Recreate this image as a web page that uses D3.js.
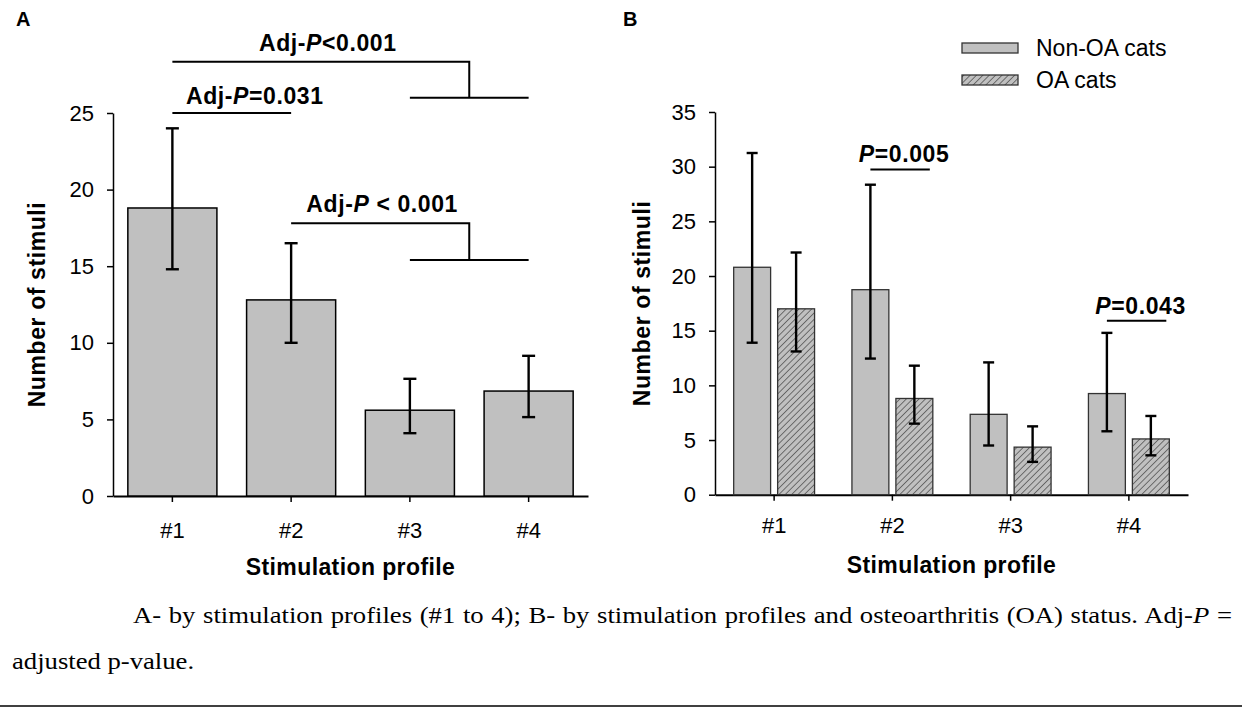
<!DOCTYPE html>
<html>
<head>
<meta charset="utf-8">
<script src="https://cdn.jsdelivr.net/npm/d3@7"></script>
<style>
  body { margin: 0; background: #fff; }
</style>
</head>
<body>
<script>
// data
const profiles = ["#1", "#2", "#3", "#4"];
const yTicksA = [0, 5, 10, 15, 20, 25];
const meanA = [18.8, 12.8, 5.6, 6.85];
const lowA = [14.8, 10.0, 4.1, 5.15];
const highA = [24.0, 16.5, 7.65, 9.15];

const groups = ["Non-OA cats", "OA cats"];
const yTicksB = [0, 5, 10, 15, 20, 25, 30, 35];
const meanNonOA = [20.8, 18.75, 7.35, 9.25];
const lowNonOA = [13.9, 12.45, 4.5, 5.8];
const highNonOA = [31.25, 28.35, 12.1, 14.8];
const meanOA = [17.0, 8.8, 4.35, 5.1];
const lowOA = [13.1, 6.5, 3.0, 3.6];
const highOA = [22.15, 11.8, 6.25, 7.2];

// significance annotations (levels in y units)
const bracketsA = [
    { pre: "Adj-", op: "<0.001", from: "#1", to: ["#3", "#4"], top: 28.35, low: 26.0, dx: 7 },
    { pre: "Adj-", op: " < 0.001", from: "#2", to: ["#3", "#4"], top: 17.8, low: 15.4, dx: 2 }
];
const linesA = [{ pre: "Adj-", op: "=0.031", from: "#1", to: "#2", level: 25.0 }];
const pairsB = [
    { profile: "#2", op: "=0.005", level: 29.75 },
    { profile: "#4", op: "=0.043", level: 15.9 }
];

const width = 1242, height = 708;
const sans = "'Liberation Sans', Arial, sans-serif";

let svg = d3.select("body").append("svg")
    .attr("width", width)
    .attr("height", height)
    .style("font-family", sans);

let pat = svg.append("defs").append("pattern")
    .attr("id", "hatch")
    .attr("patternUnits", "userSpaceOnUse")
    .attr("width", 4.5).attr("height", 4.5)
    .attr("patternTransform", "rotate(45)");
pat.append("rect").attr("width", 4.5).attr("height", 4.5).attr("fill", "#c0c0c0");
pat.append("line").attr("x1", 0).attr("y1", 0).attr("x2", 0).attr("y2", 4.5)
    .attr("stroke", "#333").attr("stroke-width", 1.2);

function styleAxis(g, domainWidth) {
    g.attr("font-size", 22).attr("font-family", sans);
    g.select(".domain").attr("stroke", "#000").attr("stroke-width", domainWidth);
    g.selectAll(".tick line").attr("stroke", "#000").attr("stroke-width", 1.5);
    g.selectAll(".tick text").attr("fill", "#000");
}

function errorBar(g, cx, lo, hi, y, cap) {
    g.append("line").attr("x1", cx).attr("x2", cx).attr("y1", y(lo)).attr("y2", y(hi));
    g.append("line").attr("x1", cx - cap / 2).attr("x2", cx + cap / 2).attr("y1", y(lo)).attr("y2", y(lo));
    g.append("line").attr("x1", cx - cap / 2).attr("x2", cx + cap / 2).attr("y1", y(hi)).attr("y2", y(hi));
}

function pLabel(g, x, y, pre, op) {
    let t = g.append("text")
        .attr("x", x).attr("y", y)
        .attr("text-anchor", "middle")
        .attr("font-weight", "bold")
        .attr("font-size", 23)
        .attr("letter-spacing", 0.6);
    if (pre) t.append("tspan").text(pre);
    t.append("tspan").attr("font-style", "italic").text("P");
    t.append("tspan").text(op);
}

function axisTitles(yx, yy, xx, xy) {
    svg.append("text")
        .attr("transform", `translate(${yx},${yy}) rotate(-90)`)
        .attr("text-anchor", "middle").attr("font-weight", "bold")
        .attr("font-size", 23).attr("letter-spacing", 0.6)
        .text("Number of stimuli");
    svg.append("text").attr("x", xx).attr("y", xy)
        .attr("text-anchor", "middle").attr("font-weight", "bold")
        .attr("font-size", 23).attr("letter-spacing", 0.4)
        .text("Stimulation profile");
}

// ---------- panel A ----------
let xA = d3.scaleBand().domain(profiles).range([113, 588]).paddingInner(0.25).paddingOuter(0.125);
let yA = d3.scaleLinear().domain([0, 25]).range([496, 113]);
let cA = p => xA(p) + xA.bandwidth() / 2;

svg.append("g").attr("transform", "translate(0,496)")
    .call(d3.axisBottom(xA).tickSize(6).tickSizeOuter(0).tickPadding(20))
    .call(g => styleAxis(g, 2));
svg.append("g").attr("transform", "translate(113,0)")
    .call(d3.axisLeft(yA).tickValues(yTicksA).tickSize(6).tickSizeOuter(0).tickPadding(13))
    .call(g => styleAxis(g, 1.5));

svg.append("g").selectAll("rect")
    .data(profiles)
    .enter()
    .append("rect")
    .attr("x", d => xA(d))
    .attr("y", (d, i) => yA(meanA[i]))
    .attr("width", xA.bandwidth())
    .attr("height", (d, i) => yA(0) - yA(meanA[i]))
    .attr("fill", "#c0c0c0")
    .attr("stroke", "#000")
    .attr("stroke-width", 1.5);

let errA = svg.append("g").attr("stroke", "#000").attr("stroke-width", 2.4);
profiles.forEach((p, i) => errorBar(errA, cA(p), lowA[i], highA[i], yA, 13));

let annA = svg.append("g");
let annLines = annA.append("g").attr("stroke", "#000").attr("stroke-width", 2).attr("fill", "none");
bracketsA.forEach(b => {
    let x0 = cA(b.from), xa = cA(b.to[0]), xb = cA(b.to[1]), xm = (xa + xb) / 2;
    annLines.append("path")
        .attr("d", `M${x0},${yA(b.top)}H${xm}V${yA(b.low)}M${xa},${yA(b.low)}H${xb}`);
    pLabel(annA, (x0 + xm) / 2 + b.dx, yA(b.top) - 11, b.pre, b.op);
});
linesA.forEach(l => {
    let x0 = cA(l.from), x1 = cA(l.to);
    annLines.append("line").attr("x1", x0).attr("x2", x1).attr("y1", yA(l.level)).attr("y2", yA(l.level));
    pLabel(annA, (x0 + x1) / 2 + 23, yA(l.level) - 9, l.pre, l.op);
});

svg.append("text").attr("x", 16).attr("y", 26)
    .attr("font-weight", "bold").attr("font-size", 20).text("A");
axisTitles(45, 304.5, 350.5, 575);

// ---------- panel B ----------
let xB = d3.scaleBand().domain(profiles).range([715, 1188]).paddingInner(0.316).paddingOuter(0.158);
let xIn = d3.scaleBand().domain(groups).range([0, xB.bandwidth()]).paddingInner(0.16);
let yB = d3.scaleLinear().domain([0, 35]).range([494.7, 112]);

svg.append("g").attr("transform", "translate(0,494.7)")
    .call(d3.axisBottom(xB).tickSize(6).tickSizeOuter(0).tickPadding(17))
    .call(g => styleAxis(g, 2));
svg.append("g").attr("transform", "translate(715,0)")
    .call(d3.axisLeft(yB).tickValues(yTicksB).tickSize(6).tickSizeOuter(0).tickPadding(13))
    .call(g => styleAxis(g, 1.5));

let seriesB = [
    { name: groups[0], mean: meanNonOA, low: lowNonOA, high: highNonOA, fill: "#c0c0c0" },
    { name: groups[1], mean: meanOA, low: lowOA, high: highOA, fill: "url(#hatch)" }
];

let barsB = svg.append("g");
let errB = svg.append("g").attr("stroke", "#000").attr("stroke-width", 2.4);
seriesB.forEach(s => {
    barsB.selectAll(null)
        .data(profiles)
        .enter()
        .append("rect")
        .attr("x", d => xB(d) + xIn(s.name))
        .attr("y", (d, i) => yB(s.mean[i]))
        .attr("width", xIn.bandwidth())
        .attr("height", (d, i) => yB(0) - yB(s.mean[i]))
        .attr("fill", s.fill)
        .attr("stroke", "#333")
        .attr("stroke-width", 1.3);
    profiles.forEach((p, i) => {
        let cx = xB(p) + xIn(s.name) + xIn.bandwidth() / 2;
        errorBar(errB, cx, s.low[i], s.high[i], yB, 11);
    });
});

let annB = svg.append("g");
pairsB.forEach(a => {
    let x0 = xB(a.profile) + xIn(groups[0]) + xIn.bandwidth() / 2;
    let x1 = xB(a.profile) + xIn(groups[1]) + xIn.bandwidth() - 3;
    annB.append("line")
        .attr("x1", x0).attr("x2", x1)
        .attr("y1", yB(a.level)).attr("y2", yB(a.level))
        .attr("stroke", "#000").attr("stroke-width", 2);
    pLabel(annB, (x0 + x1) / 2 + 4, yB(a.level) - 7, "", a.op);
});

// legend
let legend = svg.append("g").attr("transform", "translate(962,0)");
seriesB.forEach((s, i) => {
    legend.append("rect")
        .attr("x", 0).attr("y", [43, 75][i])
        .attr("width", 56).attr("height", 10)
        .attr("fill", s.fill).attr("stroke", "#333").attr("stroke-width", 1.3);
    legend.append("text")
        .attr("x", 74).attr("y", [56, 88][i])
        .attr("font-size", 23)
        .text(s.name);
});

svg.append("text").attr("x", 623).attr("y", 26)
    .attr("font-weight", "bold").attr("font-size", 20).text("B");
axisTitles(650, 303.4, 951.5, 573);

// ---------- caption ----------
// the scanned caption is a little wider than plain Times, so stretch it horizontally
let stretch = 1.16;
let serif = "'Liberation Serif', 'Times New Roman', serif";
let capG = svg.append("g")
    .attr("transform", `scale(${stretch},1)`)
    .attr("font-family", serif).attr("font-size", 23);
let cap1 = capG.append("text").attr("x", 133 / stretch).attr("y", 623);
cap1.append("tspan").text("A- by stimulation profiles (#1 to 4); B- by stimulation profiles and osteoarthritis (OA) status. Adj-");
cap1.append("tspan").attr("font-style", "italic").text("P");
cap1.append("tspan").text(" =");
// justify the first line to the right margin
let natural = cap1.node().getComputedTextLength();
cap1.attr("word-spacing", Math.max(0, ((1232 - 133) / stretch - natural) / 16));

capG.append("text")
    .attr("x", 12 / stretch).attr("y", 669)
    .text("adjusted p-value.");

svg.append("line")
    .attr("x1", 0).attr("x2", width)
    .attr("y1", 706).attr("y2", 706)
    .attr("stroke", "#000").attr("stroke-width", 1.5);
</script>
</body>
</html>
